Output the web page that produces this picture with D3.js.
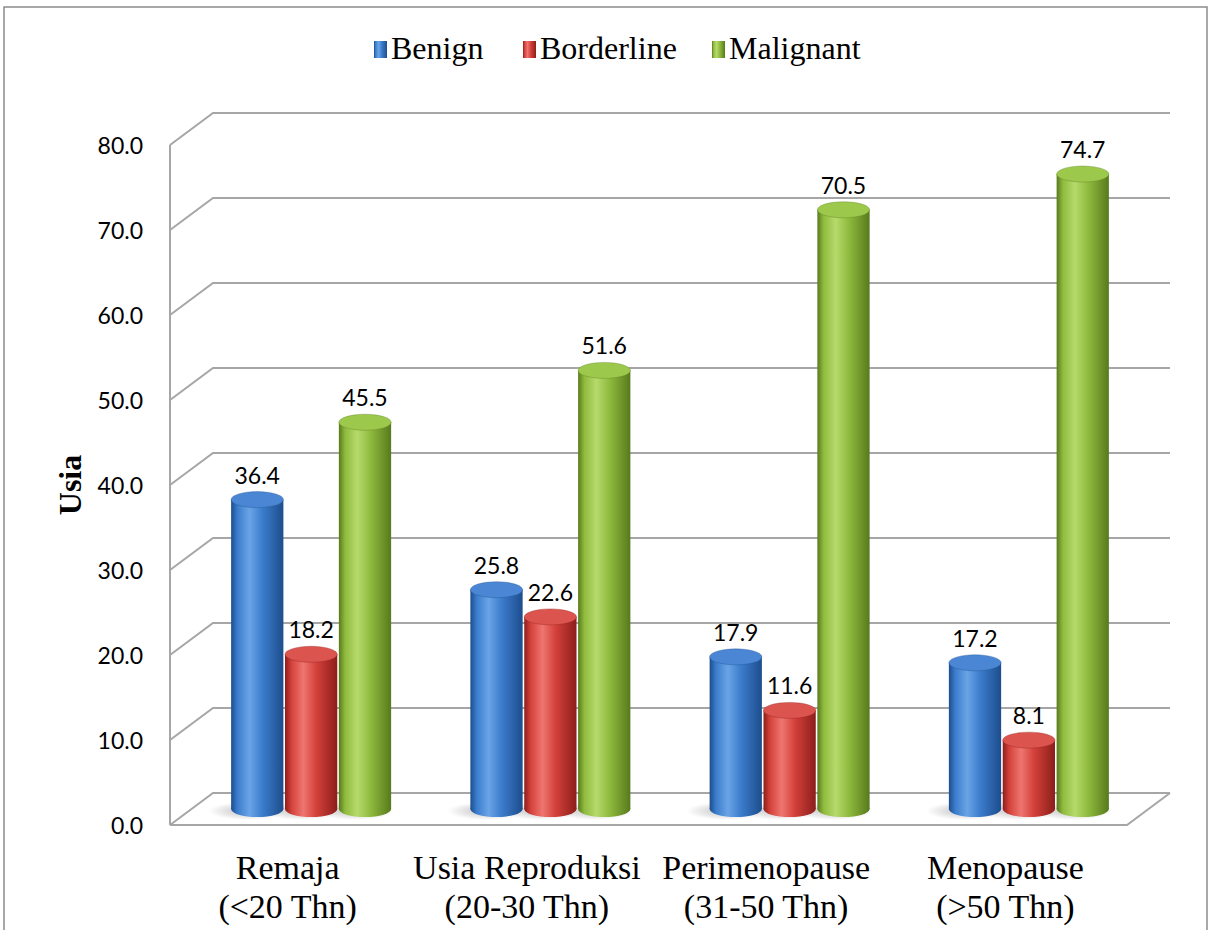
<!DOCTYPE html>
<html lang="en">

<head>
    <meta charset="UTF-8">
    <title>usia chart</title>
    <style>
        body { margin: 0; background: #fff; }
        .grid { stroke: #a6a6a6; stroke-width: 2; fill: none; }
        .tick { font: 23px Lato, sans-serif; fill: #000; }
        .val { font: 23px Lato, sans-serif; fill: #000; text-anchor: middle; }
        .cat { font: 34px "Liberation Serif", serif; fill: #000; text-anchor: middle; }
        .legend { font: 32px "Liberation Serif", serif; fill: #000; }
    </style>
</head>

<body>
    <svg width="1212" height="930"></svg>
    <script src="https://d3js.org/d3.v7.min.js"></script>
    <script>
        let categories = ["Remaja", "Usia Reproduksi", "Perimenopause", "Menopause"];
        let subLabels = ["(<20 Thn)", "(20-30 Thn)", "(31-50 Thn)", "(>50 Thn)"];
        let series = ["Benign", "Borderline", "Malignant"];
        let benign = [36.4, 25.8, 17.9, 17.2];
        let borderline = [18.2, 22.6, 11.6, 8.1];
        let malignant = [45.5, 51.6, 70.5, 74.7];
        let yTicks = [0, 10, 20, 30, 40, 50, 60, 70, 80];

        let values = [benign, borderline, malignant];
        let colors = [
            { dark: "#1d4d8c", mid: "#3b7ccc", light: "#6aa4e6", top: "#4a86d4" },
            { dark: "#8c1e1b", mid: "#d4403a", light: "#ee7670", top: "#dc544e" },
            { dark: "#587a1c", mid: "#8fbb3e", light: "#b6da6c", top: "#9cc84c" }
        ];

        let svg = d3.select("svg");
        let defs = svg.append("defs");

        // outer frame
        svg.append("rect")
            .attr("x", 4).attr("y", 7).attr("width", 1203).attr("height", 940)
            .attr("fill", "none").attr("stroke", "#8c8c8c").attr("stroke-width", 1.5);

        // 3d depth offset
        let dx = 43, dy = -32;
        let left = 170, right = 1127;

        let y = d3.scaleLinear().domain([0, 80]).range([825, 145]);
        let x = d3.scaleBand().domain(categories).range([left, right]);
        let xs = d3.scaleBand().domain(series).range([-80, 80]).paddingInner(0.03);

        // back wall gridlines with left slants
        let grid = svg.append("g");
        yTicks.forEach(t => {
            grid.append("path").attr("class", "grid")
                .attr("d", `M${left},${y(t)} L${left + dx},${y(t) + dy} L${right + dx},${y(t) + dy}`);
        });
        // left axis
        grid.append("line").attr("class", "grid")
            .attr("x1", left).attr("x2", left).attr("y1", y(80)).attr("y2", y(0));
        // floor front + right side
        grid.append("path").attr("class", "grid")
            .attr("d", `M${left},${y(0)} L${right},${y(0)} L${right + dx},${y(0) + dy}`);

        // tick labels
        svg.append("g").selectAll("text").data(yTicks).join("text")
            .attr("class", "tick")
            .attr("x", 143).attr("y", d => y(d) + 1).attr("dy", "0.35em")
            .attr("text-anchor", "end")
            .text(d => d.toFixed(1));

        // axis title
        svg.append("text")
            .attr("transform", "translate(81,485) rotate(-90)")
            .attr("text-anchor", "middle")
            .style("font", "bold 32px 'Liberation Serif', serif")
            .text("Usia");

        // gradients
        colors.forEach((c, i) => {
            let g = defs.append("linearGradient").attr("id", "body" + i)
                .attr("x1", "0%").attr("x2", "100%").attr("y1", "0%").attr("y2", "0%");
            g.append("stop").attr("offset", "0%").attr("stop-color", c.dark);
            g.append("stop").attr("offset", "12%").attr("stop-color", c.mid);
            g.append("stop").attr("offset", "35%").attr("stop-color", c.light);
            g.append("stop").attr("offset", "60%").attr("stop-color", c.mid);
            g.append("stop").attr("offset", "100%").attr("stop-color", c.dark);
        });
        let sh = defs.append("radialGradient").attr("id", "shadow");
        sh.append("stop").attr("offset", "0%").attr("stop-color", "#000").attr("stop-opacity", 0.25);
        sh.append("stop").attr("offset", "100%").attr("stop-color", "#000").attr("stop-opacity", 0);

        // bars (cylinders at half depth)
        let ox = dx / 2, oy = dy / 2;
        let ry = 8;
        let bars = svg.append("g");
        let rows = [];
        categories.forEach((cat, ci) => {
            series.forEach((s, si) => {
                rows.push({ cat, s, si, v: values[si][ci] });
            });
        });

        // floor shadows
        bars.selectAll("ellipse.sh").data(rows).join("ellipse")
            .attr("class", "sh")
            .attr("cx", d => x(d.cat) + x.bandwidth() / 2 + xs(d.s) + xs.bandwidth() / 2 - 10 + ox)
            .attr("cy", y(0) + oy + 2)
            .attr("rx", xs.bandwidth() * 0.75).attr("ry", 9)
            .attr("fill", "url(#shadow)");

        let cyl = bars.selectAll("g.cyl").data(rows).join("g").attr("class", "cyl")
            .attr("transform", d => `translate(${x(d.cat) + x.bandwidth() / 2 + xs(d.s) + ox},${oy})`);
        let w = xs.bandwidth();
        cyl.append("ellipse")
            .attr("cx", w / 2).attr("cy", y(0)).attr("rx", w / 2).attr("ry", ry)
            .attr("fill", d => `url(#body${d.si})`);
        cyl.append("rect")
            .attr("x", 0).attr("width", w)
            .attr("y", d => y(d.v)).attr("height", d => y(0) - y(d.v))
            .attr("fill", d => `url(#body${d.si})`);
        cyl.append("ellipse")
            .attr("cx", w / 2).attr("cy", d => y(d.v)).attr("rx", w / 2).attr("ry", ry)
            .attr("fill", d => colors[d.si].top)
            .attr("stroke", d => colors[d.si].dark).attr("stroke-opacity", 0.35);
        cyl.append("text")
            .attr("class", "val")
            .attr("x", w / 2).attr("y", d => y(d.v) - 16)
            .text(d => d.v.toFixed(1));

        // category labels
        let cats = svg.append("g").selectAll("text").data(categories).join("text")
            .attr("class", "cat");
        cats.append("tspan").attr("x", d => x(d) + x.bandwidth() / 2 - 2).attr("y", 879).text(d => d);
        cats.append("tspan").attr("x", d => x(d) + x.bandwidth() / 2 - 2).attr("y", 918)
            .text((d, i) => subLabels[i]);

        // legend
        let legX = [374, 523, 712];
        let leg = svg.append("g").selectAll("g").data(series).join("g")
            .attr("transform", (d, i) => `translate(${legX[i]},41)`);
        leg.append("rect").attr("x", 0).attr("y", 0).attr("width", 13).attr("height", 17)
            .attr("fill", (d, i) => `url(#body${i})`);
        leg.append("text").attr("class", "legend").attr("x", 17).attr("y", 18).text(d => d);
    </script>

</body>

</html>
